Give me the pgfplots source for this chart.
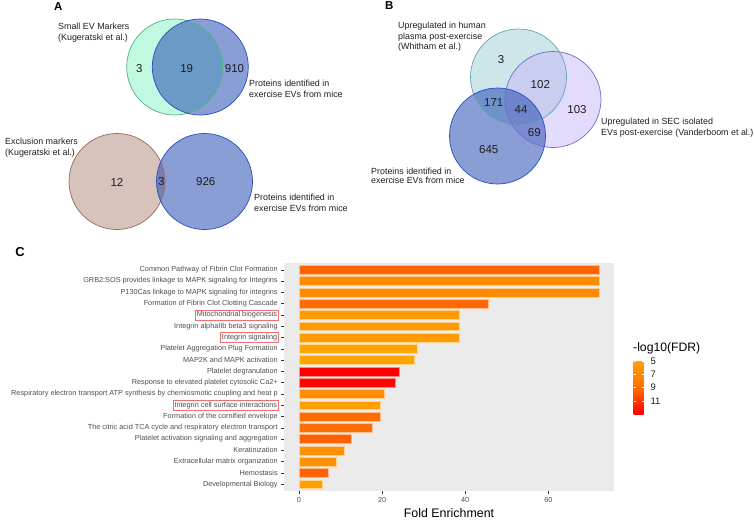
\documentclass[border=0pt]{standalone}
\usepackage{pgfplots}
\pgfplotsset{compat=1.18}
\usepackage{fontspec}
\setmainfont{Liberation Sans}

\definecolor{txt}{RGB}{30,30,30}
\definecolor{labgray}{RGB}{77,77,77}
\definecolor{tickgray}{RGB}{51,51,51}
\definecolor{panelgray}{RGB}{235,235,235}
\definecolor{boxred}{RGB}{240,110,110}
\definecolor{mintf}{RGB}{192,248,224}
\definecolor{mintd}{RGB}{80,180,130}
\definecolor{evblue}{RGB}{21,61,173}
\definecolor{blued}{RGB}{40,75,195}
\definecolor{brownf}{RGB}{216,194,188}
\definecolor{brownd}{RGB}{150,105,92}
\definecolor{tealf}{RGB}{204,230,234}
\definecolor{teald}{RGB}{105,160,180}
\definecolor{purpf}{RGB}{199,183,249}
\definecolor{purpd}{RGB}{120,105,200}

% bar colours (orange = low -log10(FDR), red = high)
\definecolor{c01}{RGB}{255,102,0}
\definecolor{c02}{RGB}{255,140,0}
\definecolor{c03}{RGB}{255,140,0}
\definecolor{c04}{RGB}{255,106,0}
\definecolor{c05}{RGB}{255,155,0}
\definecolor{c06}{RGB}{255,155,0}
\definecolor{c07}{RGB}{255,155,0}
\definecolor{c08}{RGB}{255,165,0}
\definecolor{c09}{RGB}{255,163,0}
\definecolor{c10}{RGB}{255,0,0}
\definecolor{c11}{RGB}{255,5,0}
\definecolor{c12}{RGB}{255,142,0}
\definecolor{c13}{RGB}{255,158,0}
\definecolor{c14}{RGB}{255,108,0}
\definecolor{c15}{RGB}{255,110,0}
\definecolor{c16}{RGB}{255,96,0}
\definecolor{c17}{RGB}{255,146,0}
\definecolor{c18}{RGB}{255,146,0}
\definecolor{c19}{RGB}{255,100,0}
\definecolor{c20}{RGB}{255,160,0}

\newcommand\fs[2]{\fontsize{#1}{#2}\selectfont}
\newcommand\rb[1]{{\setlength{\fboxsep}{1.2pt}\setlength{\fboxrule}{0.5pt}\fcolorbox{boxred}{white}{#1}}\kern-1.2pt}

\pgfplotsset{
  gb/.style={xbar, bar shift=0pt, bar width=0.78, fill=#1, draw=#1!45!white, line width=0.5pt},
}
\tikzset{
  vlab/.style={anchor=base west, font=\fs{8.9}{11}, text=txt, inner sep=0pt},
  vnum/.style={anchor=center, font=\fs{11.5}{12}, text=txt, inner sep=0pt},
}

\begin{document}
\begin{tikzpicture}
\useasboundingbox (0,0) rectangle (754pt,520pt);

% Venn diagrams (A, B), coordinates in picture pixels, y downwards
\begin{axis}[
    at={(0pt,0pt)}, anchor=south west,
    scale only axis, width=754pt, height=520pt,
    xmin=0, xmax=754, ymin=0, ymax=520,
    y dir=reverse, hide axis, clip=false
]
% A, top
\fill[mintf] (axis cs:174.7,67) circle[radius=48pt];
\fill[evblue, fill opacity=0.5] (axis cs:200.3,67) circle[radius=48pt];
\draw[mintd, line width=0.7pt] (axis cs:174.7,67) circle[radius=48pt];
\draw[blued, line width=0.7pt] (axis cs:200.3,67) circle[radius=48pt];
\node[vnum] at (axis cs:139.3,68.3) {3};
\node[vnum] at (axis cs:186.7,68.3) {19};
\node[vnum] at (axis cs:234.5,68.3) {910};
\node[vlab] at (axis cs:58,29.5) {Small EV Markers};
\node[vlab] at (axis cs:58,40.5) {(Kugeratski et al.)};
\node[vlab] at (axis cs:249,86) {Proteins identified in};
\node[vlab] at (axis cs:249,97) {exercise EVs from mice};
% A, bottom
\fill[brownf] (axis cs:117,181.5) circle[radius=48pt];
\fill[evblue, fill opacity=0.5] (axis cs:204.5,181.5) circle[radius=48pt];
\draw[brownd, line width=0.7pt] (axis cs:117,181.5) circle[radius=48pt];
\draw[blued, line width=0.7pt] (axis cs:204.5,181.5) circle[radius=48pt];
\node[vnum] at (axis cs:117,182) {12};
\node[vnum] at (axis cs:161.3,182) {3};
\node[vnum] at (axis cs:205.7,182) {926};
\node[vlab] at (axis cs:5,144) {Exclusion markers};
\node[vlab] at (axis cs:5,155) {(Kugeratski et al.)};
\node[vlab] at (axis cs:254,200.5) {Proteins identified in};
\node[vlab] at (axis cs:254,211.5) {exercise EVs from mice};
% B
\fill[tealf] (axis cs:518.5,77) circle[radius=48pt];
\fill[purpf, fill opacity=0.5] (axis cs:553,99.5) circle[radius=48pt];
\fill[evblue, fill opacity=0.5] (axis cs:497.5,136) circle[radius=48pt];
\draw[teald, line width=0.7pt] (axis cs:518.5,77) circle[radius=48pt];
\draw[purpd, line width=0.7pt] (axis cs:553,99.5) circle[radius=48pt];
\draw[blued, line width=0.7pt] (axis cs:497.5,136) circle[radius=48pt];
\node[vnum] at (axis cs:501,60) {3};
\node[vnum] at (axis cs:540.3,84.3) {102};
\node[vnum] at (axis cs:577,110) {103};
\node[vnum] at (axis cs:493.7,102.3) {171};
\node[vnum] at (axis cs:521,109.3) {44};
\node[vnum] at (axis cs:534.3,132.3) {69};
\node[vnum] at (axis cs:488.7,150) {645};
\node[vlab] at (axis cs:398,28.5) {Upregulated in human};
\node[vlab] at (axis cs:398,39.2) {plasma post-exercise};
\node[vlab] at (axis cs:398,49.8) {(Whitham et al.)};
\node[vlab] at (axis cs:601,124.3) {Upregulated in SEC isolated};
\node[vlab] at (axis cs:601,135.3) {EVs post-exercise (Vanderboom et al.)};
\node[vlab] at (axis cs:371,174) {Proteins identified in};
\node[vlab] at (axis cs:371,183) {exercise EVs from mice};
% panel letters and texts of C
\node[anchor=center, font=\fs{11.5}{12}\bfseries, text=black, inner sep=0pt] at (axis cs:58.3,6.8) {A};
\node[anchor=center, font=\fs{11.5}{12}\bfseries, text=black, inner sep=0pt] at (axis cs:389.3,5.8) {B};
\node[anchor=center, font=\fs{13}{14}\bfseries, text=black, inner sep=0pt] at (axis cs:20,251.7) {C};
\node[anchor=center, font=\fs{12.4}{13}, text=black, inner sep=0pt] at (axis cs:449,513) {Fold Enrichment};
\node[anchor=west, font=\fs{12.2}{13}, text=black, inner sep=0pt] at (axis cs:633,348) {-log10(FDR)};
\end{axis}

% C: enrichment bar chart
\begin{axis}[
    at={(284pt,29pt)}, anchor=south west,
    scale only axis, width=330pt, height=228pt,
    xmin=-3.6, xmax=75.8, ymin=0.4, ymax=20.6, y dir=reverse,
    axis background/.style={fill=panelgray},
    axis line style={draw=none},
    xtick={0,20,40,60}, ytick={1,...,20},
    tick pos=left, tick align=outside, major tick length=2.8pt,
    tick style={draw=tickgray, line width=0.5pt},
    ticklabel style={font=\fs{7.3}{8}, text=labgray},
    /pgf/number format/assume math mode=true,
    yticklabels={
      {Common Pathway of Fibrin Clot Formation},
      {GRB2:SOS provides linkage to MAPK signaling for Integrins},
      {P130Cas linkage to MAPK signaling for integrins},
      {Formation of Fibrin Clot Clotting Cascade},
      {\rb{Mitochondrial biogenesis}},
      {Integrin alphaIIb beta3 signaling},
      {\rb{Integrin signaling}},
      {Platelet Aggregation Plug Formation},
      {MAP2K and MAPK activation},
      {Platelet degranulation},
      {Response to elevated platelet cytosolic Ca2+},
      {Respiratory electron transport ATP synthesis by chemiosmotic coupling and heat p},
      {\rb{Integrin cell surface interactions}},
      {Formation of the cornified envelope},
      {The citric acid TCA cycle and respiratory electron transport},
      {Platelet activation signaling and aggregation},
      {Keratinization},
      {Extracellular matrix organization},
      {Hemostasis},
      {Developmental Biology}},
    colormap={fdr}{rgb255(0cm)=(255,165,0); rgb255(1cm)=(255,112,0); rgb255(2cm)=(255,0,0)},
    point meta min=4.85, point meta max=12.95,
    colorbar,
    colorbar style={
      at={(parent axis.north east)}, anchor=north west,
      xshift=11pt, yshift=-97pt,
      scale only axis, width=10pt, height=54pt,
      y dir=reverse, ytick={5,7,9,11},
      axis line style={draw=none},
      tick align=inside, major tick length=2pt,
      tick style={draw=white, line width=0.6pt},
      yticklabel style={font=\fs{9.5}{10}, text=txt, xshift=3.5pt},
      /pgf/number format/assume math mode=true,
    },
]
\addplot[gb=c01] coordinates {(72.2,1)};
\addplot[gb=c02] coordinates {(72.2,2)};
\addplot[gb=c03] coordinates {(72.2,3)};
\addplot[gb=c04] coordinates {(45.5,4)};
\addplot[gb=c05] coordinates {(38.6,5)};
\addplot[gb=c06] coordinates {(38.6,6)};
\addplot[gb=c07] coordinates {(38.6,7)};
\addplot[gb=c08] coordinates {(28.4,8)};
\addplot[gb=c09] coordinates {(27.7,9)};
\addplot[gb=c10] coordinates {(24.2,10)};
\addplot[gb=c11] coordinates {(23.2,11)};
\addplot[gb=c12] coordinates {(20.6,12)};
\addplot[gb=c13] coordinates {(19.6,13)};
\addplot[gb=c14] coordinates {(19.5,14)};
\addplot[gb=c15] coordinates {(17.7,15)};
\addplot[gb=c16] coordinates {(12.6,16)};
\addplot[gb=c17] coordinates {(10.9,17)};
\addplot[gb=c18] coordinates {(9.05,18)};
\addplot[gb=c19] coordinates {(7.05,19)};
\addplot[gb=c20] coordinates {(5.6,20)};
\end{axis}
\end{tikzpicture}
\end{document}
